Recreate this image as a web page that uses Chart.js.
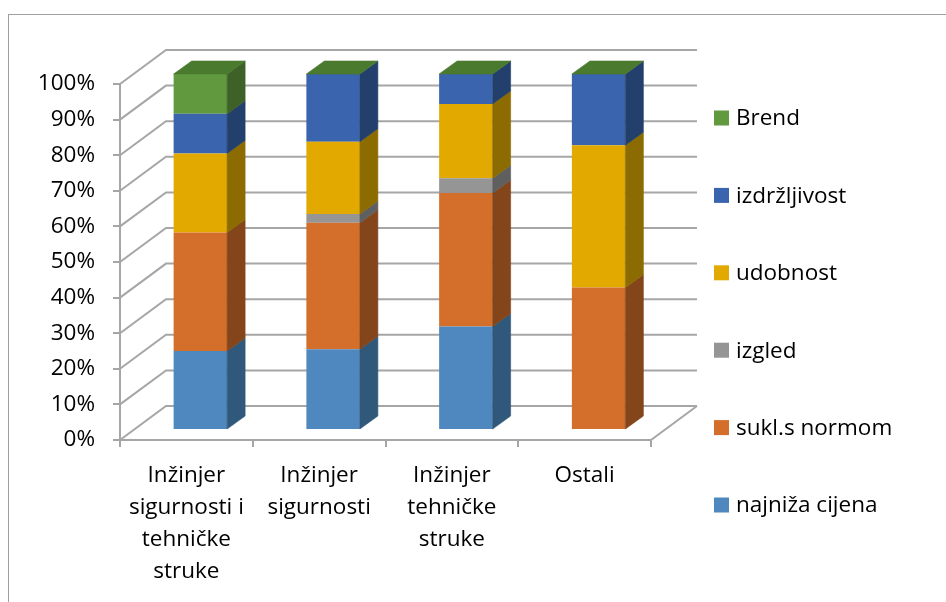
<!DOCTYPE html>
<html>
<head>
<meta charset="utf-8">
<script src="https://cdn.jsdelivr.net/npm/chart.js@4/dist/chart.umd.min.js"></script>
<style>
  html, body { margin: 0; padding: 0; background: #fff; }
  #wrap { width: 946px; height: 602px; }
</style>
</head>
<body>
<div id="wrap"><canvas id="myChart"></canvas></div>
<script>
// kategorije (x os)
const categories = [
    ['Inžinjer', 'sigurnosti i', 'tehničke', 'struke'],
    ['Inžinjer', 'sigurnosti'],
    ['Inžinjer', 'tehničke', 'struke'],
    ['Ostali']
];

// udjeli u postocima, od dna stupca prema vrhu
const seriesNames = ['najniža cijena', 'sukl.s normom', 'izgled', 'udobnost', 'izdržljivost', 'Brend'];
const najnizaCijena = [22.2, 22.7, 29.1, 0];
const suklSNormom  = [33.3, 35.5, 37.5, 40];
const izgled       = [0, 2.5, 4.1, 0];
const udobnost     = [22.2, 20.3, 20.9, 40];
const izdrzljivost = [11.1, 19.0, 8.4, 20];
const brend        = [11.2, 0, 0, 0];

const yTicks = [0, 10, 20, 30, 40, 50, 60, 70, 80, 90, 100];

// boje: prednja strana, bok, vrh
const frontColors = ['#4F88BE', '#D36E2B', '#959595', '#E2AA00', '#3A64AE', '#619A3E'];
const sideColors  = ['#30587A', '#85451A', '#5F5F5F', '#8C6C00', '#233F6C', '#3D6127'];
const topColors   = ['#3E6C97', '#A85722', '#777777', '#B48800', '#2E5089', '#4A7A2E'];

const lineColor = '#a6a6a6';
const font = { family: '"Open Sans", "Noto Sans", sans-serif', size: 22.5 };

// 3D pomaci
const wallDepth = { dx: 46, dy: -34 };
const barShift = { dx: 14, dy: -10 };
const barDepth = { dx: 18, dy: -13 };

const seriesValues = [najnizaCijena, suklSNormom, izgled, udobnost, izdrzljivost, brend];

function poly(ctx, pts, color) {
    ctx.beginPath();
    ctx.moveTo(pts[0][0], pts[0][1]);
    for (let i = 1; i < pts.length; i++) ctx.lineTo(pts[i][0], pts[i][1]);
    ctx.closePath();
    ctx.fillStyle = color;
    ctx.fill();
    ctx.strokeStyle = color;
    ctx.lineWidth = 0.6;
    ctx.stroke();
}

const frame3d = {
    id: 'frame3d',
    beforeDraw(chart) {
        const ctx = chart.ctx;
        ctx.save();
        ctx.fillStyle = '#fff';
        ctx.fillRect(0, 0, chart.width, chart.height);
        ctx.strokeStyle = '#a0a0a0';
        ctx.lineWidth = 1;
        ctx.strokeRect(8.5, 14.5, chart.width + 20, chart.height + 20);
        ctx.restore();
    },
    beforeDatasetsDraw(chart) {
        const ctx = chart.ctx;
        const area = chart.chartArea;
        const y = chart.scales.y;
        ctx.save();
        ctx.strokeStyle = lineColor;
        ctx.lineWidth = 2;
        ctx.beginPath();
        yTicks.forEach(v => {
            const py = y.getPixelForValue(v);
            // bočni zid
            ctx.moveTo(area.left, py);
            ctx.lineTo(area.left + wallDepth.dx, py + wallDepth.dy);
            // stražnji zid
            ctx.lineTo(area.right + wallDepth.dx, py + wallDepth.dy);
        });
        // desni rub poda
        const p0 = y.getPixelForValue(0);
        ctx.moveTo(area.right, p0);
        ctx.lineTo(area.right + wallDepth.dx, p0 + wallDepth.dy);
        ctx.stroke();
        ctx.restore();

        ctx.save();
        ctx.translate(barShift.dx, barShift.dy);
    },
    afterDatasetsDraw(chart) {
        const ctx = chart.ctx;
        const n = chart.data.datasets.length;
        for (let i = 0; i < n; i++) {
            chart.getDatasetMeta(i).data.forEach(bar => {
                const { x, y, base, width } = bar.getProps(['x', 'y', 'base', 'width'], true);
                if (Math.abs(base - y) < 0.01) return;
                const r = x + width / 2;
                poly(ctx, [[r, y], [r + barDepth.dx, y + barDepth.dy],
                           [r + barDepth.dx, base + barDepth.dy], [r, base]], sideColors[i]);
            });
        }
        // vrh stupca (boja zadnje serije)
        chart.getDatasetMeta(n - 1).data.forEach(bar => {
            const { x, y, width } = bar.getProps(['x', 'y', 'width'], true);
            const l = x - width / 2, r = x + width / 2;
            poly(ctx, [[l, y], [r, y], [r + barDepth.dx, y + barDepth.dy],
                       [l + barDepth.dx, y + barDepth.dy]], topColors[n - 1]);
        });
        ctx.restore();
    },
    afterDraw(chart) {
        // legenda desno, obrnutim redom
        const ctx = chart.ctx;
        const sets = chart.data.datasets;
        ctx.save();
        ctx.font = `${font.size}px ${font.family}`;
        ctx.textBaseline = 'middle';
        ctx.textAlign = 'left';
        for (let k = 0; k < sets.length; k++) {
            const ds = sets[sets.length - 1 - k];
            const cy = 118 + k * 77.4;
            ctx.fillStyle = ds.backgroundColor;
            ctx.fillRect(714, cy - 7.5, 15, 15);
            ctx.fillStyle = '#000';
            ctx.fillText(ds.label, 736, cy + 1);
        }
        ctx.restore();
    }
};

const ctx = document.getElementById('myChart').getContext('2d');
const myChart = new Chart(ctx, {
    type: 'bar',
    data: {
        labels: categories,
        datasets: seriesNames.map((name, i) => ({
            label: name,
            data: seriesValues[i],
            backgroundColor: frontColors[i],
            borderWidth: 0,
            barPercentage: 0.403,
            categoryPercentage: 1,
            clip: false
        }))
    },
    options: {
        responsive: true,
        maintainAspectRatio: false,
        animation: false,
        layout: { padding: { left: 0, top: 84, right: 295, bottom: 0 } },
        plugins: {
            legend: { display: false },
            tooltip: { enabled: false }
        },
        scales: {
            x: {
                stacked: true,
                grid: { drawOnChartArea: false, tickLength: 7, color: lineColor, lineWidth: 2 },
                border: { color: lineColor, width: 2 },
                ticks: { font: { ...font, lineHeight: 1.42 }, color: '#000', padding: 13, maxRotation: 0, autoSkip: false },
                afterFit: s => { s.height = 162; }
            },
            y: {
                stacked: true,
                min: 0,
                max: 100,
                grid: { drawOnChartArea: false, tickLength: 7, color: lineColor, lineWidth: 2 },
                border: { color: lineColor, width: 2 },
                ticks: { stepSize: 10, font, color: '#000', padding: 18, callback: v => v + '%' },
                afterFit: s => { s.width = 120; }
            }
        }
    },
    plugins: [frame3d]
});
</script>
</body>
</html>
